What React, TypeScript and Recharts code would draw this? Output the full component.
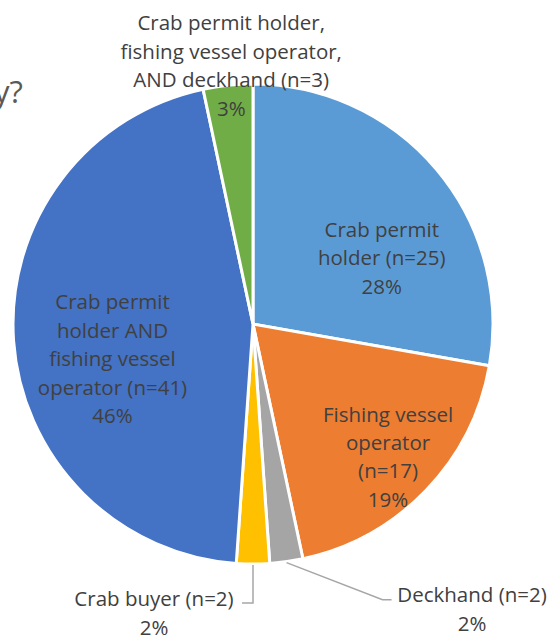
import React from "react"
import { PieChart, Pie, Cell } from "recharts"

const roles = [
  "Crab permit holder",
  "Fishing vessel operator",
  "Deckhand",
  "Crab buyer",
  "Crab permit holder AND fishing vessel operator",
  "Crab permit holder, fishing vessel operator, AND deckhand",
]
const counts = [25, 17, 2, 2, 41, 3]
const colors = ["#5B9BD5", "#ED7D31", "#A5A5A5", "#FFC000", "#4472C4", "#70AD47"]
const labelText = [
  ["Crab permit", "holder (n=25)"],
  ["Fishing vessel", "operator", "(n=17)"],
  ["Deckhand (n=2)"],
  ["Crab buyer (n=2)"],
  ["Crab permit", "holder AND", "fishing vessel", "operator (n=41)"],
  ["Crab permit holder,", "fishing vessel operator,", "AND deckhand (n=3)"],
]

const total = counts.reduce((a, b) => a + b, 0)
const data = roles.map((name, i) => ({ name, value: counts[i] }))

const RAD = Math.PI / 180
const FONT = "'Open Sans', sans-serif"
const LH = 28.4

// inside labels: radius + angle shift from the slice's mid angle
const inside: Record<number, { r: number; da: number }> = {
  0: { r: 145, da: -12.6 },
  1: { r: 189, da: -0.4 },
  4: { r: 144.6, da: 9.7 },
  5: { r: 260, da: -1.2 },
}
// outside labels: leader line offsets from the slice edge
const outside: Record<number, { elbow: [number, number]; end: [number, number]; text: [number, number] }> = {
  2: { elbow: [96, 37], end: [105, 37], text: [185.5, 46] },
  3: { elbow: [0, 38], end: [-11, 38], text: [-99, 47.5] },
}

function TextBlock({ x, y, lines }: { x: number; y: number; lines: string[] }) {
  const top = y - ((lines.length - 1) * LH) / 2
  return (
    <g>
      {lines.map((l, k) => (
        <text
          key={k}
          x={x}
          y={top + k * LH}
          textAnchor="middle"
          dominantBaseline="central"
          fill="#404040"
          fontSize={20.5}
          fontFamily={FONT}
        >
          {l}
        </text>
      ))}
    </g>
  )
}

const renderLabel = (props: any) => {
  const { cx, cy, midAngle, outerRadius, index } = props
  const pct = Math.round((counts[index] / total) * 100) + "%"
  const lines = [...labelText[index], pct]
  if (inside[index]) {
    const { r, da } = inside[index]
    const a = (midAngle + da) * RAD
    return <TextBlock key={index} x={cx + r * Math.cos(a)} y={cy - r * Math.sin(a)} lines={lines} />
  }
  const o = outside[index]
  const sx = cx + (outerRadius + 1) * Math.cos(midAngle * RAD)
  const sy = cy - (outerRadius + 1) * Math.sin(midAngle * RAD)
  const pts = `${sx},${sy} ${sx + o.elbow[0]},${sy + o.elbow[1]} ${sx + o.end[0]},${sy + o.end[1]}`
  return (
    <g key={index}>
      <polyline points={pts} fill="none" stroke="#A6A6A6" strokeWidth={1.5} />
      <TextBlock x={sx + o.text[0]} y={sy + o.text[1]} lines={lines} />
    </g>
  )
}

export default function App() {
  return (
    <div style={{ position: "fixed", left: 0, top: 0, width: 553, height: 637, background: "#fff" }}>
      <PieChart
        width={553}
        height={637}
        margin={{ top: 0, right: 0, bottom: 0, left: 0 }}
        style={{ overflow: "hidden" }}
      >
        <text x={-6} y={91} dominantBaseline="central" fill="#595959" fontSize={31} fontFamily={FONT}>
          y?
        </text>
        <Pie
          data={data}
          dataKey="value"
          cx={253}
          cy={324}
          outerRadius={240}
          startAngle={90}
          endAngle={-270}
          stroke="#fff"
          strokeWidth={3}
          label={renderLabel}
          labelLine={false}
          isAnimationActive={false}
        >
          {data.map((d, i) => (
            <Cell key={d.name} fill={colors[i]} />
          ))}
        </Pie>
      </PieChart>
    </div>
  )
}
